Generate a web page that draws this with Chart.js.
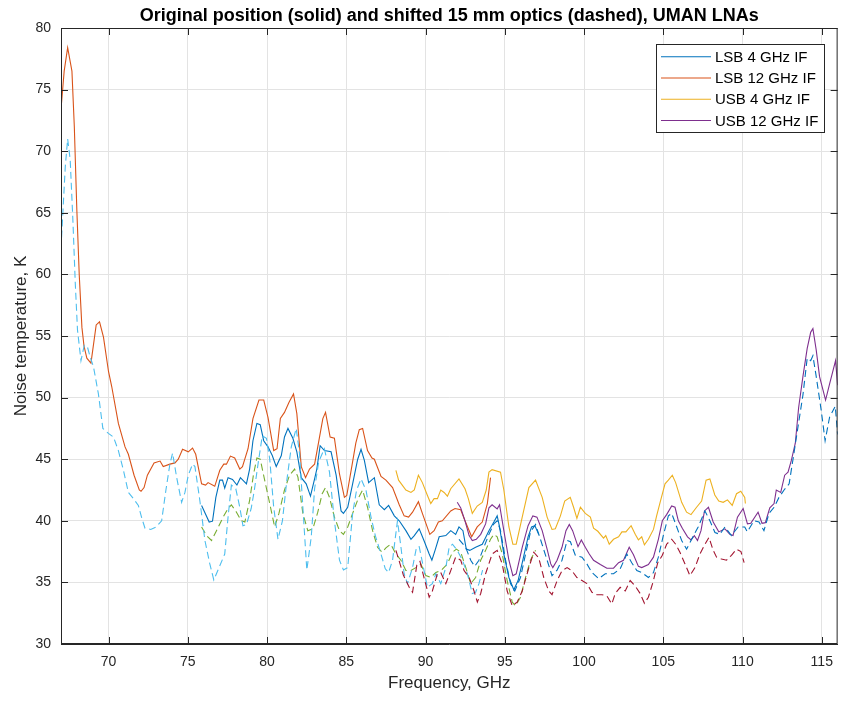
<!DOCTYPE html>
<html>
<head>
<meta charset="utf-8">
<title>Noise temperature, UMAN LNAs</title>
<script src="https://cdn.jsdelivr.net/npm/chart.js@4.4.1/dist/chart.umd.min.js"></script>
<style>
    html, body { margin: 0; padding: 0; background: #ffffff; }
    canvas { display: block; }
</style>
</head>
<body>
<canvas id="noiseChart" width="843" height="701"></canvas>
<script>
/* ==================== Data ==================== */
const xTicks = [70, 75, 80, 85, 90, 95, 100, 105, 110, 115];
const yTicks = [30, 35, 40, 45, 50, 55, 60, 65, 70, 75, 80];

// LSB 4 GHz IF, original position (solid)
const lsb4Freq = [75.87, 76.35, 76.56, 76.77, 77.02, 77.19, 77.33, 77.54, 77.82, 78.1, 78.32, 78.7, 78.9, 79.11, 79.36, 79.57, 79.79, 80.06, 80.33, 80.58, 80.9, 81.1, 81.32, 81.63, 81.88, 82.16, 82.47, 82.74, 83.0, 83.14, 83.35, 83.62, 84.04, 84.36, 84.67, 84.82, 85.09, 85.4, 85.72, 85.93, 86.14, 86.41, 86.77, 87.08, 87.4, 87.67, 88.03, 88.34, 88.76, 89.08, 89.29, 89.6, 89.9, 90.23, 90.4, 90.6, 90.86, 91.28, 91.59, 91.9, 92.11, 92.36, 92.57, 92.79, 93.16, 93.58, 94.0, 94.31, 94.52, 94.67, 94.94, 95.26, 95.57, 95.84, 96.14, 96.47, 96.69, 96.9, 97.14];
const lsb4Temp = [41.25, 39.9, 39.97, 41.9, 43.3, 43.3, 42.65, 43.5, 43.35, 42.9, 43.5, 43.0, 44.2, 46.5, 47.9, 47.8, 46.5, 46.0, 45.3, 44.4, 45.3, 46.8, 47.5, 46.7, 45.6, 43.5, 43.0, 42.0, 43.4, 44.2, 46.1, 45.7, 45.6, 43.7, 40.8, 40.6, 41.1, 43.0, 45.0, 45.8, 44.9, 43.1, 43.5, 41.3, 40.9, 41.25, 40.4, 40.0, 39.2, 38.5, 38.8, 39.35, 38.4, 37.3, 36.8, 37.6, 38.7, 38.8, 39.2, 38.9, 39.5, 39.2, 37.7, 37.6, 37.85, 38.1, 39.2, 39.9, 40.4, 39.5, 37.3, 35.4, 34.4, 35.15, 36.8, 38.7, 39.5, 39.6, 38.9];

// LSB 12 GHz IF, original position (solid)
const lsb12Freq = [67.0, 67.2, 67.42, 67.69, 67.84, 68.0, 68.15, 68.32, 68.45, 68.63, 68.89, 69.22, 69.43, 69.68, 70.0, 70.2, 70.62, 71.04, 71.25, 71.61, 71.94, 72.05, 72.24, 72.45, 72.87, 73.25, 73.45, 73.87, 74.19, 74.4, 74.67, 75.03, 75.3, 75.5, 75.87, 76.12, 76.28, 76.7, 77.02, 77.27, 77.44, 77.69, 77.96, 78.28, 78.45, 78.8, 79.11, 79.49, 79.79, 80.06, 80.42, 80.63, 80.84, 81.1, 81.38, 81.67, 81.88, 82.16, 82.43, 82.68, 83.0, 83.2, 83.52, 83.69, 83.98, 84.25, 84.57, 84.88, 85.03, 85.36, 85.6, 85.82, 86.03, 86.34, 86.62, 86.77, 87.19, 87.5, 87.92, 88.34, 88.65, 88.93, 89.18, 89.55, 89.8, 90.27, 90.54, 90.81, 91.06, 91.59, 91.86, 92.22, 92.49, 92.91, 93.26, 93.58, 93.9, 94.1];
const lsb12Temp = [73.4, 76.5, 78.4, 76.5, 72.0, 65.2, 60.0, 55.7, 54.2, 53.2, 52.8, 55.9, 56.15, 54.9, 52.1, 50.9, 47.9, 46.0, 45.4, 43.7, 42.5, 42.4, 42.7, 43.7, 44.7, 44.85, 44.4, 44.6, 44.7, 45.0, 45.8, 45.6, 45.9, 45.4, 43.0, 42.9, 43.1, 42.8, 44.1, 44.6, 44.6, 45.25, 45.1, 44.2, 44.4, 45.85, 48.3, 49.8, 49.8, 48.4, 45.7, 45.85, 48.3, 48.8, 49.6, 50.3, 48.7, 44.4, 43.5, 44.2, 44.6, 46.0, 48.3, 48.8, 46.8, 46.7, 43.8, 41.9, 42.05, 44.5, 46.3, 47.4, 47.5, 45.7, 45.1, 45.0, 43.6, 43.3, 42.7, 41.3, 40.4, 40.3, 40.7, 41.55, 40.6, 38.9, 39.2, 39.9, 40.0, 40.8, 41.0, 40.9, 40.0, 38.7, 39.5, 39.9, 41.4, 43.5];

// USB 4 GHz IF, original position (solid)
const usb4Freq = [88.13, 88.3, 88.76, 89.08, 89.29, 89.55, 89.8, 90.12, 90.33, 90.54, 90.75, 90.96, 91.17, 91.38, 91.59, 92.11, 92.49, 92.7, 92.95, 93.26, 93.58, 93.83, 94.0, 94.2, 94.73, 94.94, 95.26, 95.51, 95.72, 96.1, 96.52, 96.94, 97.36, 97.67, 97.98, 98.19, 98.51, 98.78, 99.13, 99.34, 99.55, 99.77, 100.08, 100.4, 100.6, 100.87, 101.23, 101.37, 101.59, 101.86, 102.18, 102.39, 102.64, 102.97, 103.23, 103.43, 103.64, 103.81, 104.06, 104.38, 104.58, 104.8, 105.11, 105.32, 105.57, 105.78, 106.16, 106.47, 106.75, 107.1, 107.42, 107.7, 107.94, 108.25, 108.5, 108.78, 109.05, 109.35, 109.62, 109.89, 110.14, 110.18];
const usb4Temp = [44.1, 43.3, 42.5, 42.3, 42.5, 43.7, 43.1, 42.05, 41.4, 41.8, 41.8, 42.5, 42.3, 42.0, 42.6, 43.4, 42.6, 41.8, 40.6, 41.2, 41.5, 42.5, 43.95, 44.15, 43.95, 42.5, 39.5, 38.1, 38.1, 40.3, 42.7, 43.3, 41.9, 40.3, 39.3, 39.35, 40.4, 41.6, 41.9, 41.1, 40.2, 41.1, 40.6, 40.3, 39.4, 39.15, 38.6, 38.8, 38.1, 38.5, 38.7, 39.1, 39.1, 39.6, 38.9, 38.45, 38.7, 38.05, 38.5, 39.3, 40.4, 41.5, 43.0, 43.3, 43.7, 43.1, 41.5, 40.7, 40.5, 41.1, 41.6, 43.3, 43.4, 42.1, 41.6, 41.5, 41.7, 41.25, 42.2, 42.4, 41.9, 41.4];

// USB 12 GHz IF, original position (solid)
const usb12Freq = [92.0, 92.22, 92.49, 92.75, 92.95, 93.2, 93.48, 93.79, 94.0, 94.2, 94.52, 94.67, 94.94, 95.26, 95.51, 95.72, 96.1, 96.47, 96.77, 97.03, 97.36, 97.67, 97.9, 98.03, 98.3, 98.61, 98.86, 99.07, 99.28, 99.62, 99.83, 100.08, 100.33, 100.6, 101.03, 101.44, 101.86, 102.18, 102.49, 102.85, 103.12, 103.43, 103.64, 104.06, 104.38, 104.69, 104.94, 105.21, 105.53, 105.74, 105.95, 106.2, 106.53, 106.75, 106.96, 107.16, 107.38, 107.6, 107.85, 108.15, 108.5, 108.89, 109.2, 109.4, 109.68, 110.04, 110.31, 110.52, 110.98, 111.23, 111.44, 111.72, 111.99, 112.13, 112.41, 112.66, 112.87, 113.08, 113.33, 113.54, 113.81, 114.08, 114.3, 114.44, 114.65, 114.86, 115.24, 115.49, 115.87, 116.0];
const usb12Temp = [41.5, 41.05, 40.0, 38.8, 38.4, 38.5, 38.9, 39.75, 41.05, 41.3, 40.97, 41.3, 39.2, 36.8, 35.55, 35.7, 37.85, 39.6, 40.4, 40.3, 39.2, 37.7, 36.5, 36.2, 36.8, 37.85, 39.2, 39.7, 39.2, 37.9, 38.45, 37.85, 37.3, 36.8, 36.45, 36.15, 36.15, 36.6, 36.8, 37.85, 37.25, 36.3, 36.2, 36.45, 37.05, 38.5, 40.0, 40.5, 41.2, 41.1, 40.0, 39.4, 38.7, 38.45, 38.8, 38.4, 39.2, 40.8, 41.1, 39.9, 39.1, 39.35, 38.9, 38.8, 40.3, 41.0, 39.75, 39.8, 40.7, 39.8, 39.85, 41.05, 41.4, 42.5, 42.3, 43.7, 43.95, 44.9, 46.3, 49.2, 51.7, 54.0, 55.3, 55.6, 53.85, 51.7, 49.8, 51.1, 53.0, 51.0];

// LSB 4 GHz IF, shifted 15 mm optics (dashed)
const lsb4ShiftFreq = [75.87, 76.18, 76.5, 76.81, 77.23, 77.54, 77.75, 78.07, 78.38, 78.6, 78.9, 79.15, 79.36, 79.57, 79.85, 80.17, 80.48, 80.75, 81.1, 81.42, 81.74, 81.95, 82.26, 82.57, 82.89, 83.2, 83.48, 83.69, 83.94, 84.25, 84.57, 84.82, 85.09, 85.4, 85.78, 86.03, 86.34, 86.66, 86.97, 87.25, 87.5, 87.8, 88.13, 88.45, 88.76, 89.08, 89.39, 89.7, 90.02, 90.33, 90.65, 91.0, 91.38, 91.7, 91.95, 92.22, 92.54, 92.85, 93.16, 93.48, 93.79, 94.1, 94.31, 94.52, 94.84, 95.15, 95.47, 95.68, 95.99, 96.31, 96.62, 96.94];
const lsb4ShiftTemp = [39.5, 38.8, 38.4, 39.2, 40.3, 41.0, 41.3, 40.7, 40.0, 39.9, 41.65, 43.8, 45.1, 45.0, 43.3, 41.4, 39.5, 40.6, 42.5, 43.7, 44.2, 43.55, 40.6, 39.2, 39.35, 40.7, 42.2, 42.7, 41.9, 40.3, 39.2, 38.9, 39.5, 40.6, 41.9, 42.5, 41.1, 39.2, 37.85, 37.45, 37.8, 38.1, 37.3, 36.8, 35.96, 35.96, 36.2, 36.5, 35.55, 35.4, 35.8, 36.0, 36.5, 37.45, 37.7, 37.45, 36.2, 34.9, 35.4, 36.8, 37.6, 38.5, 38.9, 38.7, 37.3, 35.15, 33.4, 33.1, 33.8, 35.4, 36.8, 37.6];

// LSB 12 GHz IF, shifted 15 mm optics (dashed)
const lsb12ShiftFreq = [67.0, 67.27, 67.42, 67.58, 67.75, 67.9, 68.04, 68.26, 68.47, 68.67, 68.84, 69.05, 69.36, 69.64, 69.99, 70.31, 70.62, 70.94, 71.25, 71.57, 71.88, 72.1, 72.3, 72.66, 73.0, 73.35, 73.62, 73.87, 74.04, 74.3, 74.61, 74.82, 75.03, 75.3, 75.45, 75.76, 76.08, 76.39, 76.64, 76.97, 77.33, 77.54, 77.75, 78.03, 78.28, 78.48, 78.7, 79.0, 79.2, 79.43, 79.7, 79.96, 80.17, 80.42, 80.69, 80.97, 81.25, 81.53, 81.84, 82.05, 82.26, 82.51, 82.79, 83.0, 83.26, 83.62, 83.94, 84.25, 84.57, 84.82, 85.09, 85.4, 85.65, 85.93, 86.24, 86.56, 86.83, 87.19, 87.46, 87.67, 87.92, 88.1, 88.23, 88.45, 88.65, 88.86, 89.18, 89.43, 89.6, 89.9, 90.12, 90.43, 90.65, 90.96, 91.28, 91.49, 91.7, 92.0, 92.33, 92.64, 92.95, 93.16, 93.37, 93.6];
const lsb12ShiftTemp = [62.1, 68.75, 71.0, 69.3, 64.4, 59.3, 55.5, 53.0, 54.25, 54.1, 53.3, 52.5, 50.3, 47.5, 47.1, 46.8, 45.7, 44.1, 42.3, 41.8, 41.25, 40.2, 39.4, 39.3, 39.5, 40.0, 42.5, 44.6, 45.5, 43.5, 41.5, 42.3, 43.7, 44.6, 44.4, 41.65, 38.4, 36.5, 35.2, 36.2, 37.3, 40.3, 42.9, 42.6, 41.1, 39.6, 39.7, 41.0, 42.5, 44.6, 46.9, 46.7, 45.0, 41.1, 38.5, 40.0, 43.3, 46.0, 47.5, 45.45, 41.1, 36.0, 38.7, 42.6, 44.8, 45.85, 43.95, 40.0, 36.8, 36.0, 36.2, 40.6, 42.5, 43.4, 42.5, 40.3, 38.8, 37.3, 36.1, 35.8, 36.8, 38.7, 40.0, 37.85, 35.7, 34.9, 36.2, 37.85, 37.9, 36.0, 34.6, 34.9, 35.7, 34.9, 36.2, 37.85, 38.1, 37.6, 36.8, 35.7, 34.1, 34.2, 34.9, 36.0];

// USB 4 GHz IF, shifted 15 mm optics (dashed)
const usb4ShiftFreq = [88.13, 88.3, 88.6, 88.97, 89.18, 89.45, 89.65, 89.9, 90.23, 90.43, 90.75, 90.96, 91.28, 91.59, 91.9, 92.22, 92.43, 92.75, 93.06, 93.27, 93.48, 93.79, 94.2, 94.52, 94.84, 95.15, 95.47, 95.78, 96.1, 96.52, 96.83, 97.14, 97.46, 97.77, 97.98, 98.3, 98.61, 98.93, 99.23, 99.55, 99.87, 100.18, 100.5, 100.81, 101.13, 101.44, 101.75, 101.97, 102.28, 102.6, 102.91, 103.23, 103.54, 103.81, 104.06, 104.38, 104.65, 104.94, 105.21, 105.53, 105.78, 106.05, 106.37, 106.68, 107.0, 107.31, 107.63, 107.88, 108.15, 108.36, 108.67, 108.99, 109.3, 109.62, 109.9, 110.1];
const usb4ShiftTemp = [37.6, 36.9, 35.6, 34.6, 34.2, 36.4, 36.7, 35.4, 33.8, 34.3, 35.7, 35.8, 34.9, 35.96, 37.05, 36.8, 35.96, 35.4, 34.3, 33.4, 34.1, 35.7, 37.3, 37.6, 36.5, 34.3, 33.1, 33.4, 34.3, 36.2, 37.45, 37.0, 35.4, 34.3, 34.0, 35.15, 35.96, 36.2, 35.96, 35.4, 35.15, 34.9, 34.2, 34.0, 34.0, 33.9, 33.25, 34.1, 34.6, 34.3, 35.15, 34.7, 34.1, 33.3, 33.8, 35.15, 36.6, 37.2, 38.1, 38.5, 38.1, 37.45, 36.5, 35.55, 36.2, 37.3, 38.1, 38.65, 37.6, 37.05, 36.9, 36.8, 37.2, 37.7, 37.5, 36.6];

// USB 12 GHz IF, shifted 15 mm optics (dashed)
const usb12ShiftFreq = [92.11, 92.53, 92.85, 93.1, 93.37, 93.68, 94.0, 94.31, 94.52, 94.73, 95.05, 95.36, 95.63, 95.99, 96.31, 96.62, 96.94, 97.25, 97.67, 97.98, 98.3, 98.61, 98.93, 99.14, 99.45, 99.87, 100.18, 100.5, 100.92, 101.34, 101.86, 102.28, 102.7, 103.01, 103.33, 103.64, 104.06, 104.38, 104.69, 105.0, 105.32, 105.53, 105.85, 106.16, 106.47, 106.79, 107.2, 107.63, 107.94, 108.26, 108.57, 108.89, 109.3, 109.72, 110.14, 110.3, 110.72, 111.04, 111.35, 111.67, 111.99, 112.3, 112.62, 112.94, 113.21, 113.46, 113.81, 114.08, 114.3, 114.44, 114.65, 114.96, 115.21, 115.49, 115.85, 116.0];
const usb12ShiftTemp = [38.5, 37.85, 36.8, 36.3, 36.8, 37.85, 38.9, 39.75, 40.0, 39.2, 36.8, 34.9, 34.3, 35.4, 37.3, 39.1, 39.7, 38.5, 36.8, 35.55, 36.0, 36.8, 38.4, 38.3, 37.2, 37.05, 36.5, 35.8, 35.3, 35.7, 35.7, 36.1, 37.3, 36.6, 35.96, 35.8, 35.4, 35.8, 37.05, 38.8, 40.4, 40.6, 39.5, 38.4, 37.7, 38.5, 39.5, 40.8, 40.0, 39.05, 38.9, 39.5, 38.8, 39.5, 39.5, 39.1, 40.0, 39.9, 39.2, 40.6, 41.1, 41.9, 42.5, 43.0, 45.2, 47.3, 50.2, 53.2, 53.0, 53.4, 51.7, 49.0, 46.5, 48.4, 49.3, 47.0];

/* ==================== Style ==================== */
const FONT = '"Liberation Sans", Arial, Helvetica, sans-serif';
const AXIS_COLOR = '#262626';
const GRID_COLOR = '#e3e3e3';
const DASH = [7, 4];

const COLORS = {
    blue: '#0072BD',
    orange: '#D95319',
    yellow: '#EDB120',
    purple: '#7E2F8E',
    green: '#77AC30',
    cyan: '#4DBEEE',
    red: '#A2142F'
};

function toPoints(freq, temp) {
    return freq.map((f, i) => ({ x: f, y: temp[i] }));
}

function lineSet(label, freq, temp, color, dashed) {
    return {
        label: label,
        data: toPoints(freq, temp),
        borderColor: color,
        backgroundColor: color,
        borderWidth: 1.1,
        borderDash: dashed ? DASH : [],
        pointRadius: 0,
        tension: 0,
        fill: false,
        legendEntry: !dashed
    };
}

const datasets = [
    lineSet('LSB 4 GHz IF', lsb4Freq, lsb4Temp, COLORS.blue, false),
    lineSet('LSB 12 GHz IF', lsb12Freq, lsb12Temp, COLORS.orange, false),
    lineSet('USB 4 GHz IF', usb4Freq, usb4Temp, COLORS.yellow, false),
    lineSet('USB 12 GHz IF', usb12Freq, usb12Temp, COLORS.purple, false),
    lineSet('LSB 4 GHz IF (shifted)', lsb4ShiftFreq, lsb4ShiftTemp, COLORS.green, true),
    lineSet('LSB 12 GHz IF (shifted)', lsb12ShiftFreq, lsb12ShiftTemp, COLORS.cyan, true),
    lineSet('USB 4 GHz IF (shifted)', usb4ShiftFreq, usb4ShiftTemp, COLORS.red, true),
    lineSet('USB 12 GHz IF (shifted)', usb12ShiftFreq, usb12ShiftTemp, COLORS.blue, true)
];
// draw in plotting order: later datasets on top
datasets.forEach((ds, i) => { ds.order = datasets.length - i; });

/* ==================== Frame, titles & legend ==================== */
const framePlugin = {
    id: 'matlabFrame',
    afterDraw(chart) {
        const ctx = chart.ctx;
        const area = chart.chartArea;
        const xs = chart.scales.x;
        const ys = chart.scales.y;
        const tick = 7;

        ctx.save();
        ctx.strokeStyle = AXIS_COLOR;
        ctx.lineWidth = 1;

        // box
        ctx.strokeRect(area.left + 0.5, area.top + 0.5, area.right - area.left - 1, area.bottom - area.top - 1);

        // inward tick marks on all four sides
        ctx.beginPath();
        xTicks.forEach(v => {
            const px = Math.round(xs.getPixelForValue(v)) + 0.5;
            ctx.moveTo(px, area.bottom);
            ctx.lineTo(px, area.bottom - tick);
            ctx.moveTo(px, area.top);
            ctx.lineTo(px, area.top + tick);
        });
        yTicks.forEach(v => {
            const py = Math.round(ys.getPixelForValue(v)) + 0.5;
            ctx.moveTo(area.left, py);
            ctx.lineTo(area.left + tick, py);
            ctx.moveTo(area.right, py);
            ctx.lineTo(area.right - tick, py);
        });
        ctx.stroke();

        // title
        ctx.fillStyle = '#000000';
        ctx.font = 'bold 18px ' + FONT;
        ctx.textAlign = 'center';
        ctx.textBaseline = 'alphabetic';
        ctx.fillText('Original position (solid) and shifted 15 mm optics (dashed), UMAN LNAs',
            (area.left + area.right) / 2, 21);

        // axis titles
        ctx.fillStyle = AXIS_COLOR;
        ctx.font = '17px ' + FONT;
        ctx.fillText('Frequency, GHz', (area.left + area.right) / 2, 688);
        ctx.save();
        ctx.translate(26, (area.top + area.bottom) / 2);
        ctx.rotate(-Math.PI / 2);
        ctx.fillText('Noise temperature, K', 0, 0);
        ctx.restore();

        // legend (solid series only)
        const box = { left: 656.5, top: 44.5, width: 168, height: 88 };
        ctx.fillStyle = '#ffffff';
        ctx.fillRect(box.left, box.top, box.width, box.height);
        ctx.strokeStyle = AXIS_COLOR;
        ctx.strokeRect(box.left, box.top, box.width, box.height);

        ctx.font = '15px ' + FONT;
        ctx.textAlign = 'left';
        ctx.textBaseline = 'middle';
        const rowY = [56.7, 78, 99.3, 120.5];
        chart.data.datasets.filter(ds => ds.legendEntry).forEach((ds, i) => {
            ctx.strokeStyle = ds.borderColor;
            ctx.lineWidth = 1.1;
            ctx.beginPath();
            ctx.moveTo(661, rowY[i]);
            ctx.lineTo(711, rowY[i]);
            ctx.stroke();
            ctx.fillStyle = '#000000';
            ctx.fillText(ds.label, 715, rowY[i] + 1);
        });

        ctx.restore();
    }
};

/* ==================== Chart ==================== */
new Chart(document.getElementById('noiseChart'), {
    type: 'line',
    data: { datasets: datasets },
    options: {
        responsive: false,
        animation: false,
        events: [],
        layout: { padding: { left: 0, top: 28, right: 3, bottom: 0 } },
        plugins: {
            legend: { display: false },
            tooltip: { enabled: false },
            title: { display: false }
        },
        scales: {
            x: {
                type: 'linear',
                min: 67,
                max: 116,
                afterBuildTicks: scale => { scale.ticks = xTicks.map(v => ({ value: v })); },
                afterFit: scale => { scale.height = 57; },
                grid: { color: GRID_COLOR, lineWidth: 1, drawTicks: false },
                border: { display: true, color: AXIS_COLOR, width: 1 },
                ticks: {
                    color: AXIS_COLOR,
                    padding: 10,
                    maxRotation: 0,
                    font: { family: FONT, size: 14 }
                }
            },
            y: {
                type: 'linear',
                min: 30,
                max: 80,
                afterBuildTicks: scale => { scale.ticks = yTicks.map(v => ({ value: v })); },
                afterFit: scale => { scale.width = 61; },
                grid: { color: GRID_COLOR, lineWidth: 1, drawTicks: false },
                border: { display: true, color: AXIS_COLOR, width: 1 },
                ticks: {
                    color: AXIS_COLOR,
                    padding: 10,
                    font: { family: FONT, size: 14 }
                }
            }
        }
    },
    plugins: [framePlugin]
});
</script>
</body>
</html>
